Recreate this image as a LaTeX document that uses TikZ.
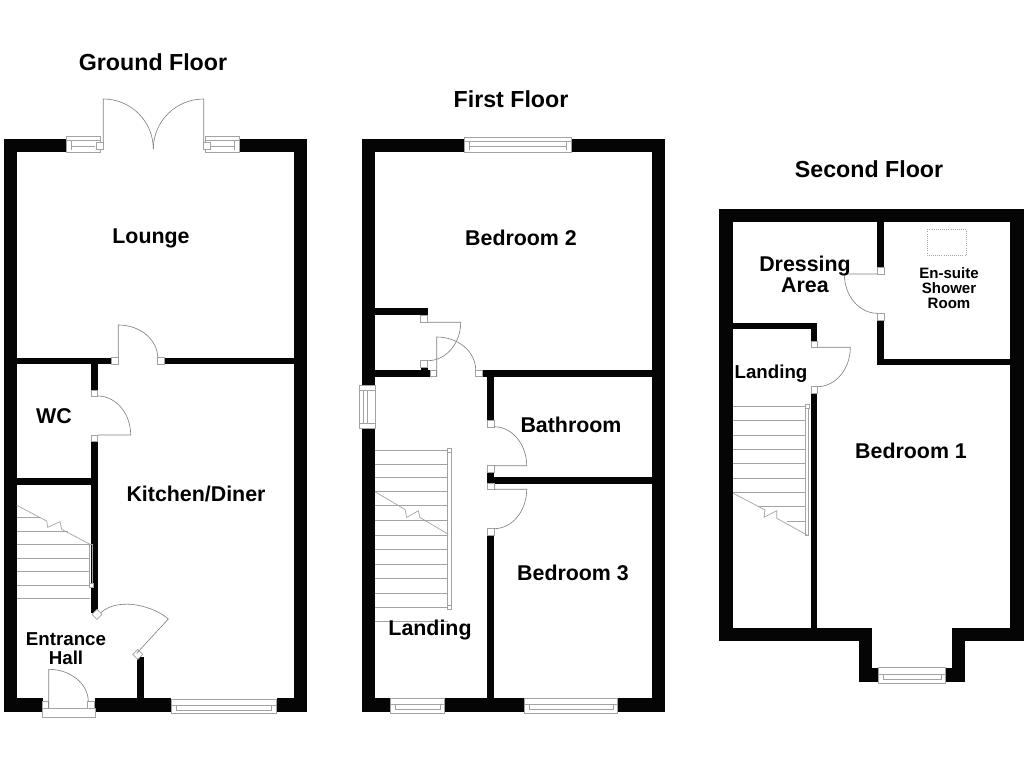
\documentclass[tikz,border=0pt]{standalone}
\usepackage{fontspec}
\setmainfont{Liberation Sans}
\usepackage{tikz}
\definecolor{linegrey}{gray}{0.5}
\definecolor{paleline}{gray}{0.64}
\definecolor{wallblack}{gray}{0.02}
\newcommand{\jamb}[2]{\draw[jamb] (#1,#2) rectangle +(6.6,6.6);}
\newcommand{\window}[4]{\draw[pale,fill=white] (#1,#3) rectangle (#2,#4);}

\begin{document}
\begin{tikzpicture}[x=0.025cm,y=-0.025cm]
 \tikzset{wall/.style={fill=wallblack},
  plan/.style={draw=linegrey,line width=0.45pt},
  pale/.style={draw=paleline,line width=0.5pt},
  jamb/.style={pale,fill=white},
  floortitle/.style={font=\fontsize{16.5}{18}\selectfont\bfseries},
  roomlabel/.style={font=\fontsize{15.2}{15.1}\selectfont\bfseries,align=center},
  hall/.style={font=\fontsize{13.3}{13.5}\selectfont\bfseries,align=center},
  ensuite/.style={font=\fontsize{10.7}{10.7}\selectfont\bfseries,align=center}}
 \useasboundingbox (0,0) rectangle (1024,768);

 % ground floor walls
 \fill[wall] (3.5,139) rectangle (66.7,152);
 \fill[wall] (239,139) rectangle (307,152);
 \fill[wall] (3.5,139) rectangle (16.5,712);
 \fill[wall] (294,139) rectangle (307,712);
 \fill[wall] (3.5,698) rectangle (42.7,712);
 \fill[wall] (94.7,698) rectangle (171.3,712);
 \fill[wall] (276.7,698) rectangle (307,712);
 \fill[wall] (16.5,357.7) rectangle (111.7,364.3);
 \fill[wall] (164.3,357.7) rectangle (294,364.3);
 \fill[wall] (91,364) rectangle (97.7,390);
 \fill[wall] (91,441.7) rectangle (97.7,613);
 \fill[wall] (16.5,478.3) rectangle (91,485);
 \fill[wall] (137.3,656.7) rectangle (143.7,698);

 % french doors and windows
 \window{66.7}{100}{136.7}{152.3}
 \window{205}{239}{136.7}{152.3}
 \draw[pale] (66.7,140.7) -- (100,140.7) (71.7,146) -- (95,146) (71.7,140.7) -- (71.7,150);
 \draw[pale] (205,140.7) -- (239,140.7) (210,146) -- (234,146) (234,140.7) -- (234,150);
 \draw[jamb] (96.7,142.3) rectangle (103.3,149.3);
 \draw[jamb] (203.7,142.3) rectangle (210.7,149.3);
 \draw[plan] (103.3,142.3) -- (103.3,99) arc (-90:0:50 and 50);
 \draw[plan] (203.7,142.3) -- (203.7,99) arc (-90:-180:50.4 and 50);

 % ground floor doors
 \jamb{111.7}{357.7}
 \jamb{157.7}{357.7}
 \draw[plan] (118.3,357.7) -- (118.3,325) arc (-90:0:39.4 and 32.7);
 \jamb{91}{390}
 \jamb{91}{435}
 \draw[plan] (97.7,396) arc (-90:0:33 and 39) -- (97.7,435);
 \draw[jamb] (97,609.3) -- (102,614.3) -- (97,619.3) -- (92,614.3) -- cycle;
 \draw[jamb] (137.7,649.3) -- (142.7,654.3) -- (137.7,659.3) -- (132.7,654.3) -- cycle;
 \draw[plan] (136.7,653.3) -- (168.3,619) .. controls (155,607) and (120,596) .. (101,612.5);
 \draw[pale,fill=white] (42.3,708) rectangle (95,717);
 \draw[jamb] (42.7,701.7) rectangle (48.7,708);
 \draw[jamb] (87.7,701.7) rectangle (94.7,708);
 \draw[plan] (48.7,708) -- (48.7,669.3) arc (-90:0:39.6 and 32.4);
 \window{171.3}{276.7}{699}{713.3}
 \draw[pale] (171.3,705.3) -- (276.7,705.3) (176,705.3) rectangle (271.7,710.7);

 % ground floor stairs
 \foreach \y in {544.7,558.3,571.7,585,598.3}
  \draw[pale] (16.5,\y) -- (90,\y);
 \draw[pale] (16.5,517.7) -- (40,517.7) (16.5,531.3) -- (68,531.3);
 \draw[pale] (16.7,505.3) -- (46.7,521) -- (47.7,527.3) -- (60,521.7) -- (61.7,529.3) -- (90,544.3);
 \draw[pale] (89.3,544.3) rectangle (92.7,586.7);
 \draw[jamb] (89,583) rectangle (93,587);

 % first floor walls
 \fill[wall] (361.7,139) rectangle (464,152);
 \fill[wall] (571,139) rectangle (665,152);
 \fill[wall] (361.7,139) rectangle (375,385.7);
 \fill[wall] (361.7,428.3) rectangle (375,711.7);
 \fill[wall] (651.7,139) rectangle (665,711.7);
 \fill[wall] (361.7,698) rectangle (390.7,711.7);
 \fill[wall] (444.3,698) rectangle (524.3,711.7);
 \fill[wall] (617.7,698) rectangle (665,711.7);
 \fill[wall] (375,308.3) rectangle (427.7,315.3);
 \fill[wall] (375,370) rectangle (430,376.7);
 \fill[wall] (420.7,367.7) rectangle (427.7,370);
 \fill[wall] (482.7,370) rectangle (651.7,376.7);
 \fill[wall] (487.3,376.7) rectangle (494,420.7);
 \fill[wall] (487.3,472.7) rectangle (494,483.3);
 \fill[wall] (487.3,477.3) rectangle (651.7,484);
 \fill[wall] (487.3,535.3) rectangle (494,698);

 % first floor windows
 \window{464}{571}{137}{152}
 \draw[pale] (464,141) -- (571,141) (469,146) -- (566,146) (469,141) -- (469,150) (566,141) -- (566,150);
 \window{359.3}{375}{385.7}{428.3}
 \draw[pale] (359.3,390) -- (375,390) (359.3,423.5) -- (375,423.5) (363.3,390) rectangle (367.3,423.5);
 \window{390.7}{444.3}{698}{713.3}
 \draw[pale] (390.7,704) -- (444.3,704) (395,704) rectangle (440,709.5);
 \window{524.3}{617.7}{698}{713.3}
 \draw[pale] (524.3,704) -- (617.7,704) (529,704) rectangle (613,709.5);

 % first floor doors
 \draw[jamb] (420.7,315.3) rectangle (427.7,322.3);
 \draw[jamb] (420.7,360.7) rectangle (427.7,367.7);
 \draw[plan] (427.7,322.3) -- (460.7,322.3) arc (0:90:33 and 38.4);
 \jamb{430}{370}
 \jamb{475.7}{370}
 \draw[plan] (436.7,376.7) -- (436.7,337) arc (-90:0:39 and 33);
 \jamb{487.3}{420.7}
 \jamb{487.3}{465.7}
 \draw[plan] (494,426.7) arc (-90:0:32.7 and 39) -- (494,465.7);
 \jamb{487.3}{483}
 \jamb{487.3}{528.7}
 \draw[plan] (494,489.3) -- (526.7,489.3) arc (0:90:32.7 and 39.4);

 % first floor stairs
 \foreach \y in {450.7,464,477.3,491,505.3,520.3,535.3,549.3,564,578.3,593,607.3,621.3}
  \draw[pale] (375,\y) -- (447.7,\y);
 \draw[pale] (375,491.7) -- (405,509.5) -- (406.7,517.5) -- (418.3,510.7) -- (420,517.5) -- (448.3,534.3);
 \draw[pale] (447.7,448.3) rectangle (451,608);
 \draw[jamb] (447.7,448.5) rectangle (451,452.5);
 \draw[jamb] (447.7,605) rectangle (451.5,609);

 % second floor walls
 \fill[wall] (719.3,209) rectangle (1023.7,222.3);
 \fill[wall] (719.3,209) rectangle (733.3,641.3);
 \fill[wall] (1010.3,209) rectangle (1023.7,641.3);
 \fill[wall] (877.3,222) rectangle (884.3,267.7);
 \fill[wall] (877.3,319.3) rectangle (884.3,365.3);
 \fill[wall] (877.3,358.7) rectangle (1010.3,365.3);
 \fill[wall] (733.3,322.7) rectangle (817.3,329.3);
 \fill[wall] (811,322.7) rectangle (817.3,341);
 \fill[wall] (811,393.3) rectangle (817.3,628.3);
 \fill[wall] (719.3,628.3) rectangle (872,641.3);
 \fill[wall] (952,628.3) rectangle (1023.7,641.3);
 \fill[wall] (859,628.3) rectangle (872,681.7);
 \fill[wall] (952,628.3) rectangle (965.3,681.7);
 \fill[wall] (859,667.7) rectangle (965.3,681.7);

 % second floor doors and window
 \jamb{877.3}{267.7}
 \jamb{877.3}{313.3}
 \draw[plan] (877.3,274) -- (844.3,274) arc (180:90:33 and 39.3);
 \jamb{811}{341}
 \jamb{811}{386.7}
 \draw[plan] (817.3,347.3) -- (850.3,347.3) arc (0:90:33 and 39.4);
 \draw[pale,densely dotted] (927.3,229.3) rectangle (966,255.3);
 \window{878.3}{945.7}{667.7}{683.3}
 \draw[pale] (878.3,674.5) -- (945.7,674.5) (883,674.5) rectangle (941,679.5);

 % second floor stairs
 \foreach \y in {406,420.7,435,449.3,463.7,478,492.3}
  \draw[pale] (733.3,\y) -- (805.7,\y);
 \draw[pale] (758,506.7) -- (805.7,506.7) (787,521.3) -- (805.7,521.3);
 \draw[pale] (733.3,493.3) -- (765,510) -- (764,517.3) -- (776.7,510.7) -- (776.7,518.3) -- (808.3,535.7);
 \draw[pale] (805,404) rectangle (808.7,535.7);
 \draw[jamb] (805,404) rectangle (809,408.5);

 % labels
 \node[floortitle] (groundtitle) at (153,62) {Ground Floor};
 \node[floortitle] (firsttitle) at (511,99) {First Floor};
 \node[floortitle] (secondtitle) at (869,169) {Second Floor};
 \node[roomlabel] (lounge) at (151,238) {Lounge};
 \node[roomlabel] (wc) at (54,416) {WC};
 \node[roomlabel] (kitchen) at (196,494) {Kitchen/Diner};
 \node[hall] (entrance) at (66,649) {Entrance\\Hall};
 \node[roomlabel] (bedtwo) at (521,238) {Bedroom 2};
 \node[roomlabel] (bathroom) at (571,425) {Bathroom};
 \node[roomlabel] (bedthree) at (573,573) {Bedroom 3};
 \node[roomlabel] (landingone) at (430,630) {Landing};
 \node[roomlabel] (dressing) at (805,274) {Dressing\\Area};
 \node[ensuite] (shower) at (949,288) {En-suite\\Shower\\Room};
 \node[hall] (landingtwo) at (771,374) {Landing};
 \node[roomlabel] (bedone) at (911,451) {Bedroom 1};
\end{tikzpicture}
\end{document}
